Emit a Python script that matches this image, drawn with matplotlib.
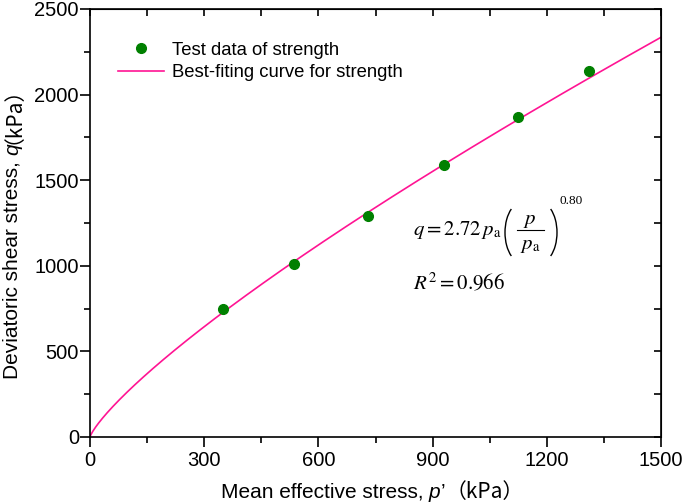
import numpy as np
import matplotlib
matplotlib.use("Agg")
import matplotlib.pyplot as plt
from matplotlib.ticker import AutoMinorLocator
from matplotlib.transforms import IdentityTransform
from matplotlib.patches import Arc
from matplotlib.lines import Line2D

# ---- data ----
p_test = [350, 535, 730, 930, 1125, 1310]          # kPa
q_test = [750, 1010, 1290, 1590, 1870, 2135]       # kPa

# best-fitting curve q = A * p^n (as drawn in the picture)
fit_coef = 6.72
fit_exp = 0.80

x_ticks = [0, 300, 600, 900, 1200, 1500]
y_ticks = [0, 500, 1000, 1500, 2000, 2500]

W, H = 685, 504
SANS = ['Liberation Sans', 'Noto Sans CJK SC']
CJK = ['Noto Sans CJK SC', 'Liberation Sans']

plt.rcParams['font.family'] = SANS

fig = plt.figure(figsize=(W / 100, H / 100), dpi=100)
ax = fig.add_axes([90 / W, 1 - 437 / H, (661 - 90) / W, (437 - 9) / H])

p_curve = np.linspace(0, 1500, 600)
q_curve = fit_coef * p_curve ** fit_exp

ax.plot(p_curve, q_curve, color='#FF1493', lw=1.2, label='Best-fiting curve for strength', zorder=2)
ax.plot(p_test, q_test, 'o', color='#008000', ms=7, mec='#008000', label='Test data of strength', zorder=3)

ax.set_xlim(0, 1500)
ax.set_ylim(0, 2500)
ax.set_xticks(x_ticks)
ax.set_yticks(y_ticks)
ax.xaxis.set_minor_locator(AutoMinorLocator(2))
ax.yaxis.set_minor_locator(AutoMinorLocator(2))

for s in ax.spines.values():
    s.set_linewidth(1.2)

ax.tick_params(which='major', direction='out', length=7, width=1.2, labelsize=14.5)
ax.tick_params(axis='y', which='major', pad=1)
ax.tick_params(axis='x', which='major', pad=3)
ax.tick_params(which='minor', direction='out', length=4, width=1.2)

# mirrored inward ticks on top/right
topax = ax.secondary_xaxis('top')
topax.set_xticks(x_ticks)
topax.xaxis.set_minor_locator(AutoMinorLocator(2))
topax.tick_params(which='major', direction='in', length=5, width=1.2, labeltop=False)
topax.tick_params(which='minor', direction='in', length=5, width=1.2)
rightax = ax.secondary_yaxis('right')
rightax.set_yticks(y_ticks)
rightax.yaxis.set_minor_locator(AutoMinorLocator(2))
rightax.tick_params(which='major', direction='in', length=5, width=1.2, labelright=False)
rightax.tick_params(which='minor', direction='in', length=5, width=1.2)

handles, labels = ax.get_legend_handles_labels()
ax.legend(handles[::-1], labels[::-1], loc='upper left', bbox_to_anchor=(0.049, 0.924),
          frameon=False, fontsize=13.3, handlelength=2.5, handletextpad=0.4,
          labelspacing=0.3, borderpad=0, borderaxespad=0)

renderer = fig.canvas.get_renderer()
PIX = IdentityTransform()


def text_len(s, size, fam, style='normal'):
    t = fig.text(0, 0, s, fontsize=size, family=fam, style=style, transform=PIX)
    L = t.get_window_extent(renderer).width
    t.remove()
    return L


def label_pieces(pieces, center, base, size, vertical=False):
    """Pieces (text, family, style, gap_after, cross_shift) laid end to end; pixel coords, y from top."""
    space = text_len("a a", size, SANS) - text_len("aa", size, SANS)
    arts, lens = [], []
    for s, fam, style, gap, shift in pieces:
        t = fig.text(0, 0, s, fontsize=size, family=fam, style=style, transform=PIX,
                     ha='left', va='baseline', rotation=90 if vertical else 0,
                     rotation_mode='anchor')
        bb = t.get_window_extent(renderer)
        arts.append((t, shift))
        lens.append((bb.height if vertical else bb.width) + gap * space)
    total = sum(lens)
    pos = -total / 2
    for (t, shift), L in zip(arts, lens):
        if vertical:
            t.set_position((base + shift, (H - center) + pos))
        else:
            t.set_position((center + pos, H - base + shift))
        pos += L


label_pieces([("Mean effective stress,", SANS, 'normal', 1, 0),
              ("p", SANS, 'italic', 0, 0),
              ("’", SANS, 'normal', 0, 0),
              ("（kPa）", CJK, 'normal', 0, 0)],
             center=372, base=498, size=15)
label_pieces([("Deviatoric shear stress,", SANS, 'normal', 1, 0),
              ("q", SANS, 'italic', 0, 0),
              ("（kPa）", CJK, 'normal', 0, -9)],
             center=222, base=18, size=15, vertical=True)

# ---- fitted equation (Times-like) ----
EQ = 15
def eq_text(x, y, s, size=EQ, ha='left'):
    fig.text(x, H - y, s, fontsize=size, transform=PIX, ha=ha, va='baseline',
             math_fontfamily='stix', family='Liberation Serif')

eq_text(413, 235, r"$q=2.72\,p_{\rm a}$")
eq_text(530, 224, r"$p$", ha='center')
eq_text(530, 249, r"$p_{\rm a}$", ha='center')
fig.add_artist(Line2D([517, 544], [H - 229.5, H - 229.5], transform=PIX, color='black', lw=0.8))
a_w, a_h = 34.6, 60.7
fig.add_artist(Arc((505 + a_w / 2, H - 232.5), a_w, a_h, theta1=115, theta2=245,
                   transform=PIX, color='black', lw=1.0))
fig.add_artist(Arc((557 - a_w / 2, H - 232.5), a_w, a_h, theta1=-65, theta2=65,
                   transform=PIX, color='black', lw=1.0))
eq_text(559, 204, "0.80", size=9.5)
eq_text(413, 289, r"$R^2=0.966$")

fig.savefig('out.png', dpi=100)
